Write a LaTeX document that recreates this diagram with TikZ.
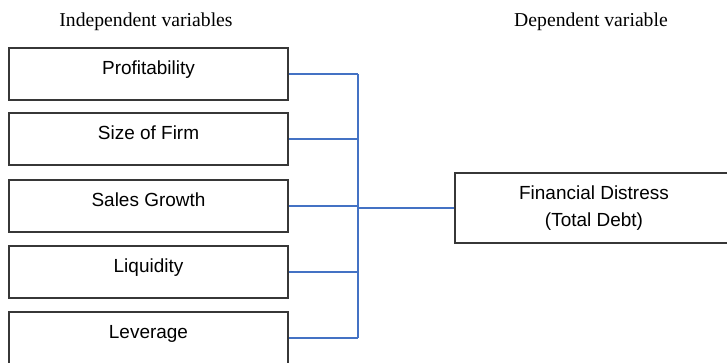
\documentclass[tikz,border=0pt]{standalone}
\usepackage{fontspec}
\setmainfont{Liberation Serif}
\setsansfont{Liberation Sans}
\definecolor{linkblue}{RGB}{68,114,196}
\definecolor{boxgray}{RGB}{55,55,55}
\tikzset{
  varbox/.style={rectangle, draw=boxgray, line width=0.9pt, minimum width=5.58cm,
    minimum height=1.04cm, text height=1.6ex, text depth=1.6ex, inner sep=0pt,
    font=\sffamily\fontsize{10.8}{13}\selectfont},
  depbox/.style={rectangle, draw=boxgray, line width=0.9pt, minimum width=5.56cm,
    minimum height=1.40cm, align=center, inner sep=0pt,
    font=\sffamily\fontsize{10.8}{15.3}\selectfont},
  heading/.style={font=\rmfamily\fontsize{11.2}{13}\selectfont},
  link/.style={draw=linkblue, line width=0.75pt}
}
\begin{document}
\begin{tikzpicture}[x=0.02cm, y=-0.02cm]
\useasboundingbox (0,0) rectangle (727,362);
\node[heading] (indep) at (146,22){Independent variables};
\node[heading] (dep) at (591,22){Dependent variable};
\node[varbox] (prof) at (148.5,74){Profitability};
\node[varbox] (size) at (148.5,139){Size of Firm};
\node[varbox] (sales) at (148.5,206){Sales Growth};
\node[varbox] (liq) at (148.5,272){Liquidity};
\node[varbox] (lev) at (148.5,338){Leverage};
\node[depbox] (dist) at (594,208){Financial Distress\\(Total Debt)};
\coordinate (bustop) at (358,74);
\coordinate (busbot) at (358,338);
\draw[link](bustop) -- (busbot);
\draw[link](prof.east) -- (bustop);
\draw[link](size.east) -- (size.east -| bustop);
\draw[link](sales.east) -- (sales.east -| bustop);
\draw[link](liq.east) -- (liq.east -| bustop);
\draw[link](lev.east) -- (busbot);
\draw[link](bustop |- dist.west) -- (dist.west);
\end{tikzpicture}
\end{document}
